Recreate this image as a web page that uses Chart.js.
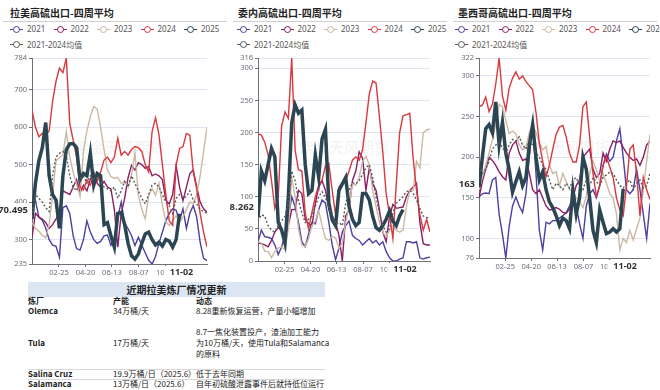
<!DOCTYPE html>
<html>
<head>
<meta charset="utf-8">
<script src="https://cdn.jsdelivr.net/npm/chart.js@4.4.1/dist/chart.umd.min.js"></script>
<style>
  body { margin: 0; background: #fff; }
  #page { position: relative; width: 660px; height: 390px; overflow: hidden; font-family: "Noto Sans", "Noto Sans CJK SC", sans-serif; }
  .panel { position: absolute; top: 0; height: 282px; overflow: hidden; }
  .title { position: absolute; top: 6px; font: bold 10px "Noto Sans CJK SC", sans-serif; color: #222; line-height: 14px; white-space: nowrap; }
  .rule { position: absolute; top: 21px; left: 3px; right: 3px; border-top: 1px solid #d0d0d0; }
  .legend { position: absolute; top: 21px; width: 240px; font-size: 8px; color: #555; line-height: 15px; white-space: nowrap; }
  .item { display: inline-flex; align-items: center; width: 43.5px; }
  .item.wide { width: auto; }
  .item i { position: relative; display: inline-block; flex-shrink: 0; width: 13px; height: 8px; margin-right: 4px; }
  .item i::before { content: ''; position: absolute; left: 0; right: 0; top: 4px; border-top: 1px solid var(--c); }
  .item i::after { content: ''; position: absolute; left: 3px; top: 1px; width: 5px; height: 5px; border: 1px solid var(--c); border-radius: 50%; background: #fff; }
  canvas { position: absolute; top: 50px; left: 0; }
  #table { position: absolute; left: 28px; top: 282px; width: 297px; height: 108px; font-size: 8px; color: #222; font-family: "Noto Sans CJK SC", sans-serif; }
  #table .band { position: absolute; left: 0; top: 0; width: 297px; height: 15px; background: #dce6f2; text-align: center; font-weight: bold; font-size: 10px; line-height: 15px; }
  #table .cell { position: absolute; line-height: 10px; white-space: nowrap; }
  #table .b { font-weight: bold; }
  #table .hr { position: absolute; left: 0; width: 297px; border-top: 1px solid #d8d8d8; }
</style>
</head>
<body>
<div id="page"></div>
<script>
// weekly sample dates (x positions) and axis labels
const weekDates = ['01-01','01-08','01-15','01-22','01-29','02-05','02-12','02-19','02-26','03-05','03-12','03-19','03-26',
  '04-02','04-09','04-16','04-23','04-30','05-07','05-14','05-21','05-28','06-04','06-11','06-18','06-25',
  '07-02','07-09','07-16','07-23','07-30','08-06','08-13','08-20','08-27','09-03','09-10','09-17','09-24',
  '10-01','10-08','10-15','10-22','10-29','11-05','11-12','11-19','11-26','12-03','12-10','12-17','12-24'];
const axisDates = ['02-25', '04-20', '06-13', '08-07', '10-01'];
const pointerDate = '11-02';

const seriesNames = ['2021', '2022', '2023', '2024', '2025', '2021-2024均值'];
const seriesColors = ['#4b3fa0', '#8c1d64', '#cbb9a4', '#d9383f', '#2b4652', '#5a5a5a'];

const titles = ['拉美高硫出口-四周平均', '委内高硫出口-四周平均', '墨西哥高硫出口-四周平均'];
const pointerValues = [370.495, 78.262, 163];

// 拉美
const latamTicks = [235, 300, 400, 500, 600, 700, 784];
const latam2021 = [395,405,360,352,330,300,285,282,253,385,390,370,310,276,272,300,350,320,300,290,295,310,312,285,300,360,400,345,329,311,284,306,285,265,245,235,255,290,320,350,370,382,378,350,382,330,370,391,360,293,250,244];
const latam2022 = [305,370,360,355,345,330,340,355,372,430,425,420,440,460,425,445,430,460,480,450,440,455,440,435,380,280,370,410,465,498,485,505,500,490,495,470,475,470,460,405,395,420,498,440,404,440,476,485,440,400,382,373];
const latam2023 = [345,330,322,312,305,340,420,510,518,525,588,520,480,448,415,535,590,628,655,648,600,540,485,468,463,466,450,455,440,470,532,418,380,355,418,436,418,450,391,347,338,350,364,345,360,380,400,395,420,470,534,600];
const latam2024 = [645,600,574,583,578,590,668,722,757,745,784,610,565,520,440,432,460,445,470,455,480,512,520,505,520,570,525,535,525,540,548,545,535,500,480,588,625,580,500,420,350,338,498,543,548,583,578,480,436,370,320,280];
const latam2025 = [355,450,510,545,612,470,420,405,330,470,540,555,556,545,460,476,470,530,445,476,470,340,345,310,280,370,372,340,290,257,248,262,290,315,320,300,286,293,283,300,296,280,300,369];
const latamAvg = [360,420,410,400,385,375,470,520,530,535,525,470,440,430,460,470,450,470,460,465,455,440,435,430,440,410,430,455,440,470,450,430,410,395,420,445,450,440,420,400,390,370,410,420,410,415,430,405,395,380,375,370];

// 委内
const venTicks = [0, 50, 100, 150, 200, 250, 300, 316];
const ven2021 = [30,48,38,37,35,25,10,22,40,65,100,85,60,30,22,42,60,58,80,95,90,60,25,2,20,45,55,62,40,35,32,25,30,35,28,32,25,30,15,5,0,0,3,5,30,30,28,30,5,3,5,6];
const ven2022 = [28,27,25,22,32,45,52,48,30,55,80,80,110,105,65,58,55,90,115,125,110,80,70,60,40,0,70,80,125,140,170,160,110,145,120,110,80,45,30,70,88,82,83,84,100,110,115,121,60,27,25,25];
const ven2023 = [30,28,15,15,5,15,20,22,18,50,130,100,50,25,22,35,55,62,78,55,35,32,38,36,20,28,60,85,120,118,130,155,163,150,110,85,60,45,38,48,55,48,45,48,85,110,110,155,145,200,204,205];
const ven2024 = [198,196,185,165,125,82,100,210,232,222,316,173,142,140,75,50,76,100,118,126,148,152,110,72,115,121,125,140,157,162,157,173,215,260,280,277,225,170,105,72,35,120,200,226,228,230,160,110,72,48,65,45];
const ven2025 = [68,140,125,150,175,162,60,48,28,100,215,243,230,235,150,105,110,165,130,190,205,90,64,55,110,120,130,85,65,55,60,105,105,95,70,52,48,55,65,78,62,55,70,80];
const venAvg = [62,72,70,55,48,45,55,62,70,90,140,125,95,75,60,65,70,85,100,108,98,85,72,58,60,55,90,110,122,120,125,135,145,150,130,100,75,55,45,50,75,90,95,100,108,110,105,95,82,70,68,66];

// 墨西哥
const mexTicks = [76, 100, 150, 200, 250, 300, 322];
const mex2021 = [151,155,156,155,172,175,130,105,76,115,140,151,140,132,155,200,240,180,110,86,120,118,122,122,125,128,132,140,150,140,118,100,140,155,160,150,165,190,204,195,200,220,235,200,160,155,160,185,160,130,100,143];
const mex2022 = [150,170,185,200,196,190,182,176,172,205,215,220,205,196,198,180,160,155,160,150,140,135,136,138,136,132,131,136,150,165,172,200,205,210,185,175,180,205,195,210,220,218,220,212,205,200,196,198,190,200,215,220];
const mex2023 = [160,176,190,205,222,240,265,262,245,229,232,229,215,209,212,230,240,230,218,209,213,190,180,182,165,180,170,160,158,150,145,138,152,180,195,185,170,180,168,155,150,130,86,100,95,110,98,112,125,160,195,228];
const mex2024 = [262,264,274,256,265,290,322,275,258,285,297,305,296,300,293,288,283,255,217,195,176,190,210,228,237,239,225,205,194,194,215,262,268,225,180,152,165,190,200,188,175,150,135,128,165,210,215,180,128,175,160,148];
const mex2025 = [163,200,235,240,230,268,215,243,205,185,157,170,182,165,175,215,240,200,172,182,160,145,138,128,116,125,122,112,160,130,150,200,185,150,110,95,135,120,106,108,112,108,112,161];
const mexAvg = [190,180,185,195,210,215,218,212,205,215,222,220,225,215,210,220,215,205,200,190,185,172,160,168,165,160,168,162,172,175,165,160,172,165,175,170,165,175,178,182,180,172,165,162,168,172,160,168,172,162,165,180];

// table text
const tableTitle = '近期拉美炼厂情况更新';
const tableHead = ['炼厂', '产能', '动态'];

function dayOf(md) {
  const [m, d] = md.split('-').map(Number);
  return Math.round((Date.UTC(2025, m - 1, d) - Date.UTC(2025, 0, 1)) / 86400000) + 1;
}
const tickLabelByDay = {};
axisDates.forEach(d => { tickLabelByDay[dayOf(d)] = d; });

const panels = [
  { left: 0, width: 230, titleX: 10, legendX: 10, yAxisW: 32, padRight: 23, xAxisH: 16,
    ticks: latamTicks, series: [latam2021, latam2022, latam2023, latam2024, latam2025, latamAvg] },
  { left: 230, width: 220, titleX: 8, legendX: 7, yAxisW: 28, padRight: 20, xAxisH: 19,
    ticks: venTicks, series: [ven2021, ven2022, ven2023, ven2024, ven2025, venAvg] },
  { left: 450, width: 210, titleX: 8, legendX: 5, yAxisW: 29, padRight: 10, xAxisH: 22,
    ticks: mexTicks, series: [mex2021, mex2022, mex2023, mex2024, mex2025, mexAvg] }
];

const overlay = {
  id: 'overlay',
  beforeDatasetsDraw(chart) {
    const ctx = chart.ctx, a = chart.chartArea;
    ctx.save();
    ctx.font = '15px "Noto Sans CJK SC"';
    ctx.fillStyle = 'rgba(120,120,120,0.10)';
    ctx.textAlign = 'center';
    ctx.textBaseline = 'middle';
    ctx.fillText('紫金天风期货', (a.left + a.right) / 2, 97);
    ctx.restore();
  },
  afterDraw(chart, args, opts) {
    const ctx = chart.ctx, a = chart.chartArea;
    ctx.save();
    ctx.textBaseline = 'middle';
    // y pointer label
    const y = chart.scales.y.getPixelForValue(opts.value) - 3;
    const text = String(opts.value);
    ctx.font = 'bold 9.5px "Noto Sans"';
    const w = ctx.measureText(text).width;
    const right = a.left - 4;
    ctx.fillStyle = '#fff';
    ctx.fillRect(right - w - 4, y - 7, w + 6, 14);
    ctx.fillStyle = '#333';
    ctx.textAlign = 'right';
    ctx.fillText(text, right, y);
    // x pointer label
    const x = chart.scales.x.getPixelForValue(dayOf(pointerDate));
    const yb = a.bottom + 8;
    ctx.font = 'bold 9px "Noto Sans"';
    const w2 = ctx.measureText(pointerDate).width;
    ctx.fillStyle = '#fff';
    ctx.fillRect(x - w2 / 2 - 6, a.bottom + 2, w2 + 12, 13);
    ctx.fillStyle = '#333';
    ctx.textAlign = 'center';
    ctx.fillText(pointerDate, x, yb);
    ctx.restore();
  }
};

const page = document.getElementById('page');

panels.forEach((p, k) => {
  const div = document.createElement('div');
  div.className = 'panel';
  div.style.left = p.left + 'px';
  div.style.width = p.width + 'px';
  const items = seriesNames.map((n, i) =>
    `<span class="item${i === 5 ? ' wide' : ''}"><i style="--c:${seriesColors[i]}"></i>${n}</span>` + (i === 4 ? '<br>' : ''));
  div.innerHTML =
    `<div class="title" style="left:${p.titleX}px">${titles[k]}</div>` +
    `<div class="rule"></div>` +
    `<div class="legend" style="left:${p.legendX}px">${items.join('')}</div>` +
    `<canvas width="${p.width}" height="230"></canvas>`;
  page.appendChild(div);

  const datasets = p.series.map((vals, i) => ({
    label: seriesNames[i],
    data: vals.map((v, j) => ({ x: dayOf(weekDates[j]), y: v })),
    borderColor: seriesColors[i],
    borderWidth: i === 4 ? 3.5 : 1.4,
    borderDash: i === 5 ? [2, 2] : [],
    pointRadius: 0,
    tension: 0,
    order: 6 - i
  }));

  new Chart(div.querySelector('canvas'), {
    type: 'line',
    data: { datasets },
    options: {
      responsive: false,
      animation: false,
      layout: { padding: { top: 8, right: p.padRight, bottom: 0, left: 0 } },
      plugins: {
        legend: { display: false },
        tooltip: { enabled: false },
        overlay: { value: pointerValues[k] }
      },
      scales: {
        x: {
          type: 'linear',
          min: dayOf(weekDates[0]),
          max: dayOf(weekDates[weekDates.length - 1]),
          afterBuildTicks: s => { s.ticks = axisDates.map(d => ({ value: dayOf(d) })); },
          afterFit: s => { s.height = p.xAxisH; },
          grid: { drawOnChartArea: false, tickLength: 3, tickColor: '#6e7079' },
          border: { color: '#6e7079' },
          ticks: { autoSkip: false, maxRotation: 0, padding: 1, color: '#6e7079',
                   font: { size: 7.5, family: 'Noto Sans' },
                   callback: v => tickLabelByDay[v] || '' }
        },
        y: {
          min: p.ticks[0],
          max: p.ticks[p.ticks.length - 1],
          afterBuildTicks: s => { s.ticks = p.ticks.map(v => ({ value: v })); },
          afterFit: s => { s.width = p.yAxisW; },
          grid: { color: '#e0e6f1', tickLength: 3, tickColor: '#6e7079' },
          border: { color: '#6e7079' },
          ticks: { padding: 2, color: '#6e7079', font: { size: 7.5, family: 'Noto Sans' } }
        }
      }
    },
    plugins: [overlay]
  });
});

// refinery table
const tableRows = [
  { name: 'Olemca', cap: '34万桶/天', note: ['8.28重新恢复运营，产量小幅增加'], y: 29 },
  { name: 'Tula', cap: '17万桶/天', note: ['8.7一焦化装置投产，渣油加工能力', '为10万桶/天，使用Tula和Salamanca', '的原料'], y: 61 },
  { name: 'Salina Cruz', cap: '19.9万桶/日（2025.6）', note: ['低于去年同期'], y: 92 },
  { name: 'Salamanca', cap: '13万桶/日（2025.6）', note: ['自年初硫酸泄露事件后就持低位运行'], y: 102 }
];
const colX = [0, 85, 168];
let html = `<div class="band">${tableTitle}</div>`;
tableHead.forEach((h, i) => { html += `<div class="cell b" style="left:${colX[i]}px;top:14px">${h}</div>`; });
tableRows.forEach(r => {
  html += `<div class="cell b" style="left:${colX[0]}px;top:${r.y - 5}px">${r.name}</div>`;
  html += `<div class="cell" style="left:${colX[1]}px;top:${r.y - 5}px">${r.cap}</div>`;
  const n = r.note.length;
  r.note.forEach((t, j) => {
    const cy = r.y + (j - (n - 1) / 2) * 11;
    html += `<div class="cell" style="left:${colX[2]}px;top:${cy - 5}px">${t}</div>`;
  });
});
html += `<div class="hr" style="top:87px"></div><div class="hr" style="top:97px"></div>`;
const table = document.createElement('div');
table.id = 'table';
table.innerHTML = html;
page.appendChild(table);
</script>
</body>
</html>
